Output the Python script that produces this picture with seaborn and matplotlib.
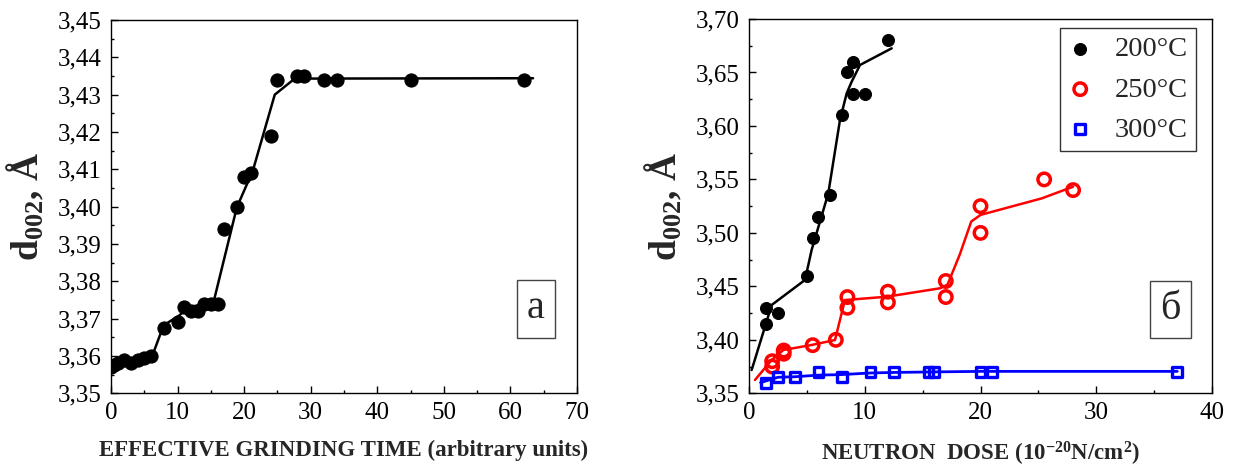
import matplotlib
matplotlib.use("Agg")
import matplotlib.pyplot as plt
import seaborn as sns
import pandas as pd

# ---- panel (a): interlayer spacing vs. effective grinding time ----
grind_time = [0, 0.5, 1, 2, 3, 4, 5, 6, 8, 10, 11, 12, 13, 14, 15, 16,
              17, 19, 20, 21, 24, 25, 28, 29, 32, 34, 45, 62]
grind_d002 = [3.357, 3.3575, 3.358, 3.359, 3.358, 3.359, 3.3595, 3.360,
              3.3675, 3.369, 3.373, 3.372, 3.372, 3.374, 3.374, 3.374,
              3.394, 3.400, 3.408, 3.409, 3.419, 3.434, 3.435, 3.435,
              3.434, 3.434, 3.434, 3.434]
grind_fit_x = [0, 2, 6.3, 7.9, 10.3, 11.5, 15.4, 18.9, 21.3, 24.6, 27.6, 63.4]
grind_fit_y = [3.357, 3.3583, 3.3605, 3.3682, 3.3709, 3.373, 3.3744, 3.3998,
               3.4096, 3.430, 3.4343, 3.4344]

# ---- panel (б): interlayer spacing vs. neutron dose ----
dose_200 = [1.5, 1.5, 2.5, 5, 5.5, 6, 7, 8, 8.5, 9, 9, 10, 12]
d002_200 = [3.415, 3.430, 3.425, 3.460, 3.495, 3.515, 3.535, 3.610, 3.650,
            3.660, 3.630, 3.630, 3.680]
fit_200_x = [0.23, 1.96, 4.84, 5.41, 6.85, 7.86, 8.44, 8.87, 9.59, 12.33]
fit_200_y = [3.3718, 3.4326, 3.456, 3.484, 3.537, 3.6056, 3.6305, 3.6414,
             3.657, 3.6726]

dose_250 = [2, 2, 3, 3, 5.5, 7.5, 8.5, 8.5, 12, 12, 17, 17, 20, 20, 25.5, 28]
d002_250 = [3.375, 3.380, 3.390, 3.387, 3.395, 3.400, 3.440, 3.430, 3.445,
            3.435, 3.455, 3.440, 3.525, 3.500, 3.550, 3.540]
fit_250_x = [0.52, 1.96, 2.97, 5.41, 7.43, 7.86, 8.29, 11.9, 16.5, 17.15,
             18.2, 19.2, 20.0, 25.3, 28.0]
fit_250_y = [3.3625, 3.3812, 3.3905, 3.3952, 3.3998, 3.4186, 3.4372, 3.4403,
             3.4482, 3.4516, 3.4795, 3.5106, 3.5168, 3.5323, 3.5432]

dose_300 = [1.5, 2.5, 4, 6, 8, 10.5, 12.5, 15.5, 16, 20, 21, 37]
d002_300 = [3.360, 3.365, 3.365, 3.370, 3.365, 3.370, 3.370, 3.370, 3.370,
            3.370, 3.370, 3.370]
fit_300_x = [1.0, 2.5, 4, 6, 8, 10.5, 12.5, 16, 20, 21, 37]
fit_300_y = [3.360, 3.365, 3.3655, 3.367, 3.3675, 3.369, 3.3695, 3.370,
             3.3705, 3.3705, 3.3705]

sns.set_theme(style="ticks")
plt.rcParams.update({
    "font.family": ["Liberation Serif", "DejaVu Serif"],
    "mathtext.fontset": "custom",
    "mathtext.rm": "Liberation Serif",
    "mathtext.it": "Liberation Serif:italic",
    "mathtext.bf": "Liberation Serif:bold",
    "axes.linewidth": 1.0,
    "axes.edgecolor": "black",
    "xtick.direction": "in",
    "ytick.direction": "in",
    "xtick.color": "black",
    "ytick.color": "black",
    "xtick.major.size": 5,
    "ytick.major.size": 5,
    "xtick.minor.size": 2.5,
    "ytick.minor.size": 2.5,
    "xtick.major.width": 1.0,
    "ytick.major.width": 1.0,
    "xtick.minor.width": 1.0,
    "ytick.minor.width": 1.0,
})

fig = plt.figure(figsize=(12.38, 4.68), dpi=100)
W, H = 1238, 468
ax1 = fig.add_axes([111 / W, 1 - 393.3 / H, 466 / W, 373.3 / H])
ax2 = fig.add_axes([749 / W, 1 - 393.3 / H, 463 / W, 374.3 / H])

ylabel = r"$\mathbf{d_{002}}$, Å"


def style_axes(ax, xlim, ylim, xstep, ystep, xlabel):
    ax.set_xlim(*xlim)
    ax.set_ylim(*ylim)
    ax.xaxis.set_major_locator(matplotlib.ticker.MultipleLocator(xstep))
    ax.xaxis.set_minor_locator(matplotlib.ticker.MultipleLocator(xstep / 2))
    ax.yaxis.set_major_locator(matplotlib.ticker.MultipleLocator(ystep))
    ax.yaxis.set_minor_locator(matplotlib.ticker.MultipleLocator(ystep / 2))
    ax.yaxis.set_major_formatter(
        matplotlib.ticker.FuncFormatter(lambda v, p: f"{v:.2f}".replace(".", ",")))
    ax.tick_params(axis="both", which="both", top=False, right=False,
                   labelsize=18)
    ax.tick_params(axis="y", pad=7)
    ax.tick_params(axis="x", pad=6)
    for s in ax.spines.values():
        s.set_visible(True)
        s.set_linewidth(1.0)
    ax.set_xlabel(xlabel, fontsize=16.5, fontweight="bold", labelpad=12)
    ax.set_ylabel(ylabel, fontsize=27, fontweight="bold", labelpad=8)


# panel (a)
sns.lineplot(x=grind_fit_x, y=grind_fit_y, ax=ax1, color="black", lw=1.8,
             sort=False, estimator=None)
sns.scatterplot(x=grind_time, y=grind_d002, ax=ax1, color="black",
                edgecolor="black", s=90, marker="o", zorder=3)
style_axes(ax1, (0, 70), (3.35, 3.45), 10, 0.01,
           "EFFECTIVE GRINDING TIME (arbitrary units)")
ax1.text(0.912, 0.226, "a", transform=ax1.transAxes, fontsize=29,
         ha="center", va="center",
         bbox=dict(boxstyle="square,pad=0.25", fc="white", ec="#444444", lw=1.0))

# panel (б)
sns.lineplot(x=fit_200_x, y=fit_200_y, ax=ax2, color="black", lw=1.8,
             sort=False, estimator=None)
sns.lineplot(x=fit_250_x, y=fit_250_y, ax=ax2, color="red", lw=1.8,
             sort=False, estimator=None)
sns.lineplot(x=fit_300_x, y=fit_300_y, ax=ax2, color="blue", lw=2.0,
             sort=False, estimator=None)
sns.scatterplot(x=dose_200, y=d002_200, ax=ax2, color="black",
                edgecolor="black", s=75, marker="o", zorder=3, label="200°C")
sns.scatterplot(x=dose_250, y=d002_250, ax=ax2, facecolor="none",
                edgecolor="red", linewidth=2.5, s=80, marker="o", zorder=3,
                label="250°C")
sns.scatterplot(x=dose_300, y=d002_300, ax=ax2, facecolor="none",
                edgecolor="blue", linewidth=2.4, s=50, marker="s", zorder=3,
                label="300°C")
style_axes(ax2, (0, 40), (3.35, 3.70), 10, 0.05,
           r"NEUTRON  DOSE (10$^{\mathbf{-20}}$N/cm$^{\mathbf{2}}$)")
leg = ax2.legend(loc="upper right", bbox_to_anchor=(0.9655, 0.976),
                 borderaxespad=0, fontsize=20.5, frameon=True, fancybox=False,
                 edgecolor="#333333", framealpha=1, labelspacing=0.5,
                 handletextpad=0.8, borderpad=0.3, handlelength=0.8)
leg.get_frame().set_linewidth(1.0)
ax2.text(0.911, 0.225, "б", transform=ax2.transAxes, fontsize=29,
         ha="center", va="center",
         bbox=dict(boxstyle="square,pad=0.25", fc="white", ec="#444444", lw=1.0))

fig.savefig("out.png", dpi=100)
